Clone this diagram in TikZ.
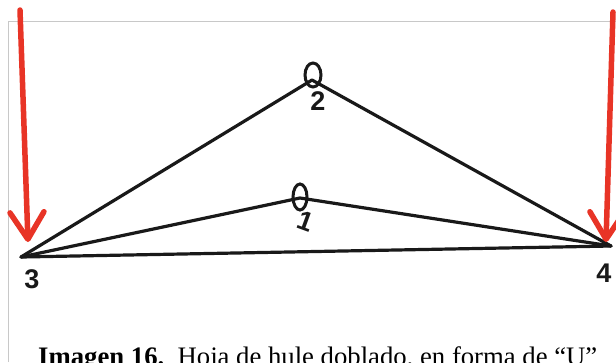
\documentclass[tikz,border=0pt]{standalone}
\usepackage{fontspec}
\setmainfont{Liberation Serif}
\newfontfamily\handfont{Liberation Sans}
\usetikzlibrary{arrows.meta}
\definecolor{arrowred}{RGB}{232,52,38}
\definecolor{framegray}{RGB}{200,200,200}
\tikzset{
  fold/.style={line width=3.2pt, line cap=round, line join=round, black!90},
  pinring/.style={draw=black!90, line width=3pt},
  redarrow/.style={arrowred, line width=5.5pt, line cap=round,
    -{Straight Barb[length=27pt,width=34pt,line width=5.5pt,round]}},
  digit/.style={font=\handfont\bfseries\fontsize{27}{27}\selectfont, inner sep=0pt, black!90},
  frameline/.style={framegray, line width=1pt}
}
\begin{document}
\begin{tikzpicture}[x=1pt,y=-1pt]
\useasboundingbox (0,0) rectangle (616,362);
\clip (0,0) rectangle (616,362);
% frame
\coordinate (fl) at (8,362);
\coordinate (fc) at (8,21);
\coordinate (fr) at (616,21);
\draw[frameline] (fl) -- (fc) -- (fr);
% points
\coordinate (p3) at (21,257);
\coordinate (p4) at (611,246);
\coordinate (p2) at (312,80);
\coordinate (p1) at (300,198);
% fold lines
\draw[fold] (p3) -- (p2) -- (p4);
\draw[fold] (p3) -- (p1) -- (p4);
\draw[fold] (p3) -- (p4);
% pins
\draw[pinring] (313,75) ellipse [x radius=8, y radius=12];
\draw[pinring] (300,197) ellipse [x radius=7, y radius=13];
% labels
\node[digit] (l2) at (318,101) {2};
\node[digit, rotate=-20] (l1) at (306,221) {1};
\node[digit] (l3) at (32,279) {3};
\node[digit] (l4) at (604,273) {4};
% red arrows
\coordinate (a1s) at (20,10);
\coordinate (a1e) at (28,242);
\coordinate (a2s) at (613,12);
\coordinate (a2e) at (606,242);
\draw[redarrow] (a1s) -- (a1e);
\draw[redarrow] (a2s) -- (a2e);
% caption
\node[anchor=base west, inner sep=0pt, font=\fontsize{26.7}{26.7}\selectfont] (cap) at (38,365)
  {\textbf{Imagen 16.}\ \ Hoja de hule doblado, en forma de “U”};
\end{tikzpicture}
\end{document}
